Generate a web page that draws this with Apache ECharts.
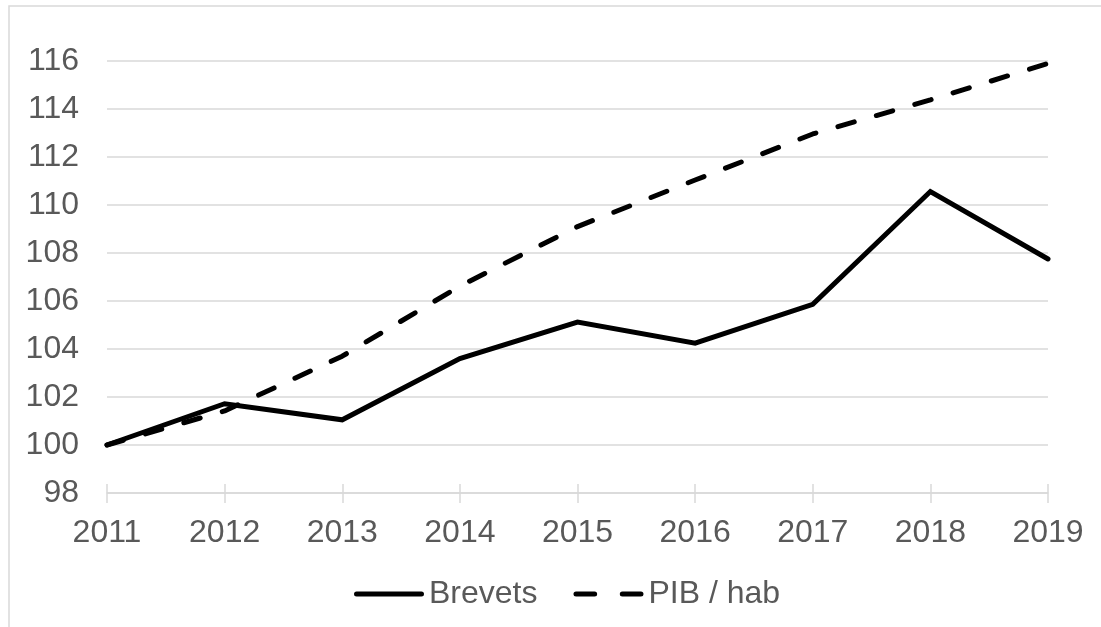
<!DOCTYPE html>
<html>
<head>
<meta charset="utf-8">
<script src="https://cdn.jsdelivr.net/npm/echarts@6/dist/echarts.min.js"></script>
<style>
html,body{margin:0;padding:0;background:#fff;}
#chart{width:1101px;height:627px;}
</style>
</head>
<body>
<div id="chart"></div>
<script>
var years = ['2011','2012','2013','2014','2015','2016','2017','2018','2019'];
var brevets = [100, 101.72, 101.05, 103.6, 105.12, 104.24, 105.86, 110.56, 107.75];
var pibHab = [100, 101.42, 103.7, 106.62, 109.1, 111.04, 112.96, 114.38, 115.9];
var seriesNames = ['Brevets', 'PIB / hab'];
var yMin = 98, yMax = 116, yStep = 2;

var textColor = '#595959';
var gridColor = '#d9d9d9';
var font = 'Liberation Sans, Arial, sans-serif';

var solidIcon = 'path://M2.5,0H65.5A2.5,2.5 0 0 1 65.5,5H2.5A2.5,2.5 0 0 1 2.5,0Z';
var dashIcon = 'path://M2.5,0H20.5A2.5,2.5 0 0 1 20.5,5H2.5A2.5,2.5 0 0 1 2.5,0Z M47.5,0H65.5A2.5,2.5 0 0 1 65.5,5H47.5A2.5,2.5 0 0 1 47.5,0Z';

var chart = echarts.init(document.getElementById('chart'), null, {renderer: 'canvas'});
chart.setOption({
  animation: false,
  backgroundColor: '#ffffff',
  graphic: [{
    type: 'rect',
    shape: {x: 9, y: 6, width: 1200, height: 800},
    style: {fill: 'none', stroke: gridColor, lineWidth: 1.5},
    silent: true, z: -10
  }],
  grid: {left: 107, right: 53, top: 61, bottom: 134, containLabel: false},
  legend: {
    left: 349,
    top: 573,
    itemWidth: 70,
    itemHeight: 5,
    itemGap: 36,
    symbolKeepAspect: false,
    itemStyle: {color: '#000', borderWidth: 0},
    textStyle: {fontSize: 32, color: textColor, fontFamily: font, lineHeight: 30},
    data: [
      {name: seriesNames[0], icon: solidIcon},
      {name: seriesNames[1], icon: dashIcon}
    ]
  },
  xAxis: [{
    type: 'category',
    data: years,
    boundaryGap: false,
    axisLine: {show: true, lineStyle: {color: gridColor, width: 1.5}},
    axisTick: {show: true, alignWithLabel: true, length: 10, lineStyle: {color: gridColor, width: 1.5}},
    axisLabel: {fontSize: 32, color: textColor, fontFamily: font, margin: 24},
    splitLine: {show: false}
  }, {
    type: 'category',
    data: years,
    boundaryGap: false,
    position: 'bottom',
    axisLine: {show: false},
    axisTick: {show: true, inside: true, length: 9, lineStyle: {color: gridColor, width: 1.5}},
    axisLabel: {show: false},
    splitLine: {show: false}
  }],
  yAxis: {
    type: 'value',
    min: yMin, max: yMax, interval: yStep,
    axisLine: {show: false},
    axisTick: {show: false},
    axisLabel: {fontSize: 32, color: textColor, fontFamily: font, margin: 28},
    splitLine: {show: true, lineStyle: {color: gridColor, width: 1.5}}
  },
  series: [{
    name: seriesNames[0],
    type: 'line',
    data: brevets,
    symbol: 'none',
    lineStyle: {color: '#000', width: 5, join: 'miter', cap: 'round'},
    itemStyle: {color: '#000'},
    z: 3
  }, {
    name: seriesNames[1],
    type: 'line',
    data: pibHab,
    symbol: 'none',
    lineStyle: {color: '#000', width: 5, type: [17, 23], cap: 'round'},
    itemStyle: {color: '#000'},
    z: 2
  }]
});
</script>
</body>
</html>
